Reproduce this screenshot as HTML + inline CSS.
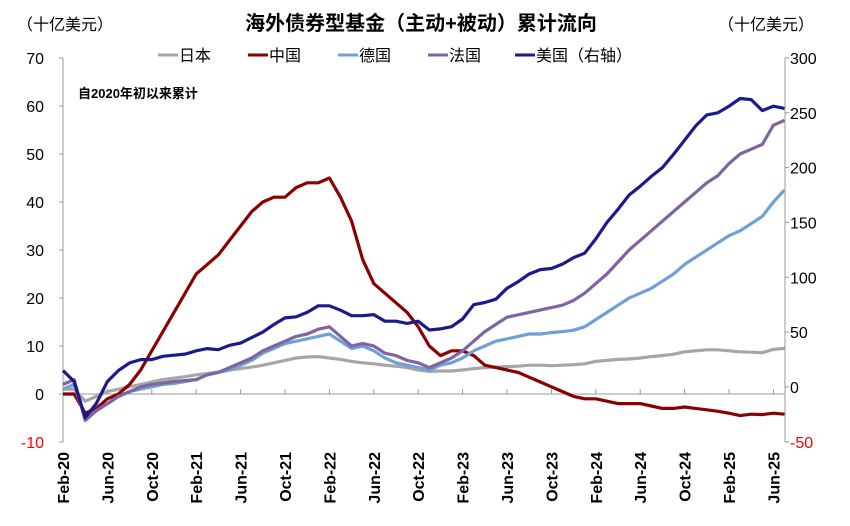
<!DOCTYPE html>
<html><head><meta charset="utf-8">
<style>
body{margin:0;background:#fff;}
svg{display:block;font-family:"Liberation Sans","Noto Sans CJK SC",sans-serif;}
</style></head>
<body>
<svg id="chart" width="850" height="526" viewBox="0 0 850 526" xmlns="http://www.w3.org/2000/svg">
<text x="421" y="30" text-anchor="middle" font-size="20" font-weight="bold">海外债券型基金（主动+被动）累计流向</text>
<text x="65" y="30" text-anchor="middle" font-size="16">（十亿美元）</text>
<text x="766" y="30" text-anchor="middle" font-size="16">（十亿美元）</text>
<text x="78" y="98" font-size="13" font-weight="bold">自2020年初以来累计</text>
<g id="legend"></g>
<g id="axes"></g>
<g id="series"></g>
</svg>
<script>
const xLabels=["Feb-20","Jun-20","Oct-20","Feb-21","Jun-21","Oct-21","Feb-22","Jun-22","Oct-22","Feb-23","Jun-23","Oct-23","Feb-24","Jun-24","Oct-24","Feb-25","Jun-25"];
const leftTicks=[-10,0,10,20,30,40,50,60,70];
const rightTicks=[-50,0,50,100,150,200,250,300];
const seriesNames=["日本","中国","德国","法国","美国（右轴）"];
const japan=[1,1,-1.5,-0.5,0.5,1,1.5,2,2.5,3,3.3,3.6,4,4.3,4.6,5,5.3,5.6,6,6.5,7,7.5,7.7,7.8,7.5,7.2,6.8,6.5,6.3,6,5.8,5.5,5,4.7,4.8,4.8,5,5.3,5.5,5.6,5.7,5.8,6,6,5.9,6,6.1,6.3,6.8,7,7.2,7.3,7.5,7.8,8,8.3,8.8,9,9.2,9.2,9,8.8,8.7,8.6,9.3,9.5];
const china=[0,0,-4,-3,-1,0,2,5,9,13,17,21,25,27,29,32,35,38,40,41,41,43,44,44,45,41,36,28,23,21,19,17,14,10,8,9,9,8,6,5.5,5,4.5,3.5,2.5,1.5,0.5,-0.5,-1,-1,-1.5,-2,-2,-2,-2.5,-3,-3,-2.7,-3,-3.3,-3.6,-4,-4.5,-4.2,-4.3,-4,-4.2];
const germany=[1,2,-5,-3.5,-2,-0.5,0.5,1,1.5,2,2.2,2.6,3,4,4.5,5,6,7,8.5,9.5,10.5,11,11.5,12,12.5,11,9.5,10,9,7.5,6.5,6,5.5,5,6,6.5,7.5,9,10,11,11.5,12,12.5,12.5,12.8,13,13.3,14,15.5,17,18.5,20,21,22,23.5,25,27,28.5,30,31.5,33,34,35.5,37,40,42.5];
const france=[2,3,-5.5,-3.5,-2,-0.5,0.5,1.5,2,2.3,2.6,2.8,3,4,4.5,5.5,6.5,7.5,9,10,11,12,12.5,13.5,14,12,10,10.5,10,8.5,8,7,6.5,5.5,6.5,7.5,9,11,13,14.5,16,16.5,17,17.5,18,18.5,19.5,21,23,25,27.5,30,32,34,36,38,40,42,44,45.5,48,50,51,52,56,57];
const usa=[15,5,-28,-15,5,15,22,25,25,28,29,30,33,35,34,38,40,45,50,57,63,64,68,74,74,70,65,65,66,60,60,58,60,52,53,55,62,75,77,80,90,96,103,107,108,112,118,122,135,150,162,175,183,192,200,212,225,238,248,250,256,263,262,252,256,254];
const colors=["#a6a6a6","#8b0000","#6fa0d8","#8064a2","#1a1a8c"];

const NS="http://www.w3.org/2000/svg";
const X0=63, MONTH_PX=11.1, LAX=63, RAX=785;
const xm=m=>X0+m*MONTH_PX;
const yL=v=>394-v*4.8;
const yR=v=>387-v*1.097;
function mk(tag,attrs,parent){const e=document.createElementNS(NS,tag);for(const k in attrs)e.setAttribute(k,attrs[k]);parent.appendChild(e);return e;}
const axes=document.getElementById('axes');
const ax=mk('path',{d:`M${LAX} 58V442M${LAX} 442h-4M${RAX} 58V442M${RAX} 442h4M${LAX} ${yL(0)}H${RAX}`,stroke:"#999",fill:"none","stroke-width":1},axes);


leftTicks.forEach(v=>{
  const y=yL(v);
  const t=mk('path',{d:`M${LAX-4} ${y}H${LAX}`,stroke:"#999"},axes);
  
  
  const l=mk('text',{x:44,y:y+6,"text-anchor":"end","font-size":16,fill:v<0?"#ff0000":"#000"},axes);
  l.textContent=v;
  
  
});
rightTicks.forEach(v=>{
  const y=yR(v);
  const t=mk('path',{d:`M${RAX} ${y}H${RAX+4}`,stroke:"#999"},axes);
  
  
  const l=mk('text',{x:790,y:y+6,"font-size":16,fill:v<0?"#ff0000":"#000"},axes);
  l.textContent=v;
  
  
});
xLabels.forEach((s,i)=>{
  const x=xm(i*4);
  const t=mk('path',{d:`M${x} ${yL(0)}v-5`,stroke:"#999"},axes);
  
  
  const l=mk('text',{x:0,y:0,"text-anchor":"end","font-size":16,"font-weight":"bold",transform:`translate(${x+6},452) rotate(-90)`},axes);
  l.textContent=s;
  
  
});
const ser=document.getElementById('series');
const data=[japan,china,germany,france,usa];
const scales=[yL,yL,yL,yL,yR];
data.forEach((arr,i)=>{
  const d=arr.map((v,m)=>(m?'L':'M')+xm(m).toFixed(1)+' '+scales[i](v).toFixed(1)).join('');
  const p=mk('path',{d,fill:"none",stroke:colors[i],"stroke-width":3.2,"stroke-linejoin":"round"},ser);
  
  
});
const lg=document.getElementById('legend');
const lx=[158,248,338,428,515];
seriesNames.forEach((n,i)=>{
  const l=mk('line',{x1:lx[i],x2:lx[i]+20,y1:55,y2:55,stroke:colors[i],"stroke-width":3},lg);
  
  
  const t=mk('text',{x:lx[i]+21,y:61,"font-size":16},lg);
  t.textContent=n;
  
  
});
</script>
</body></html>
